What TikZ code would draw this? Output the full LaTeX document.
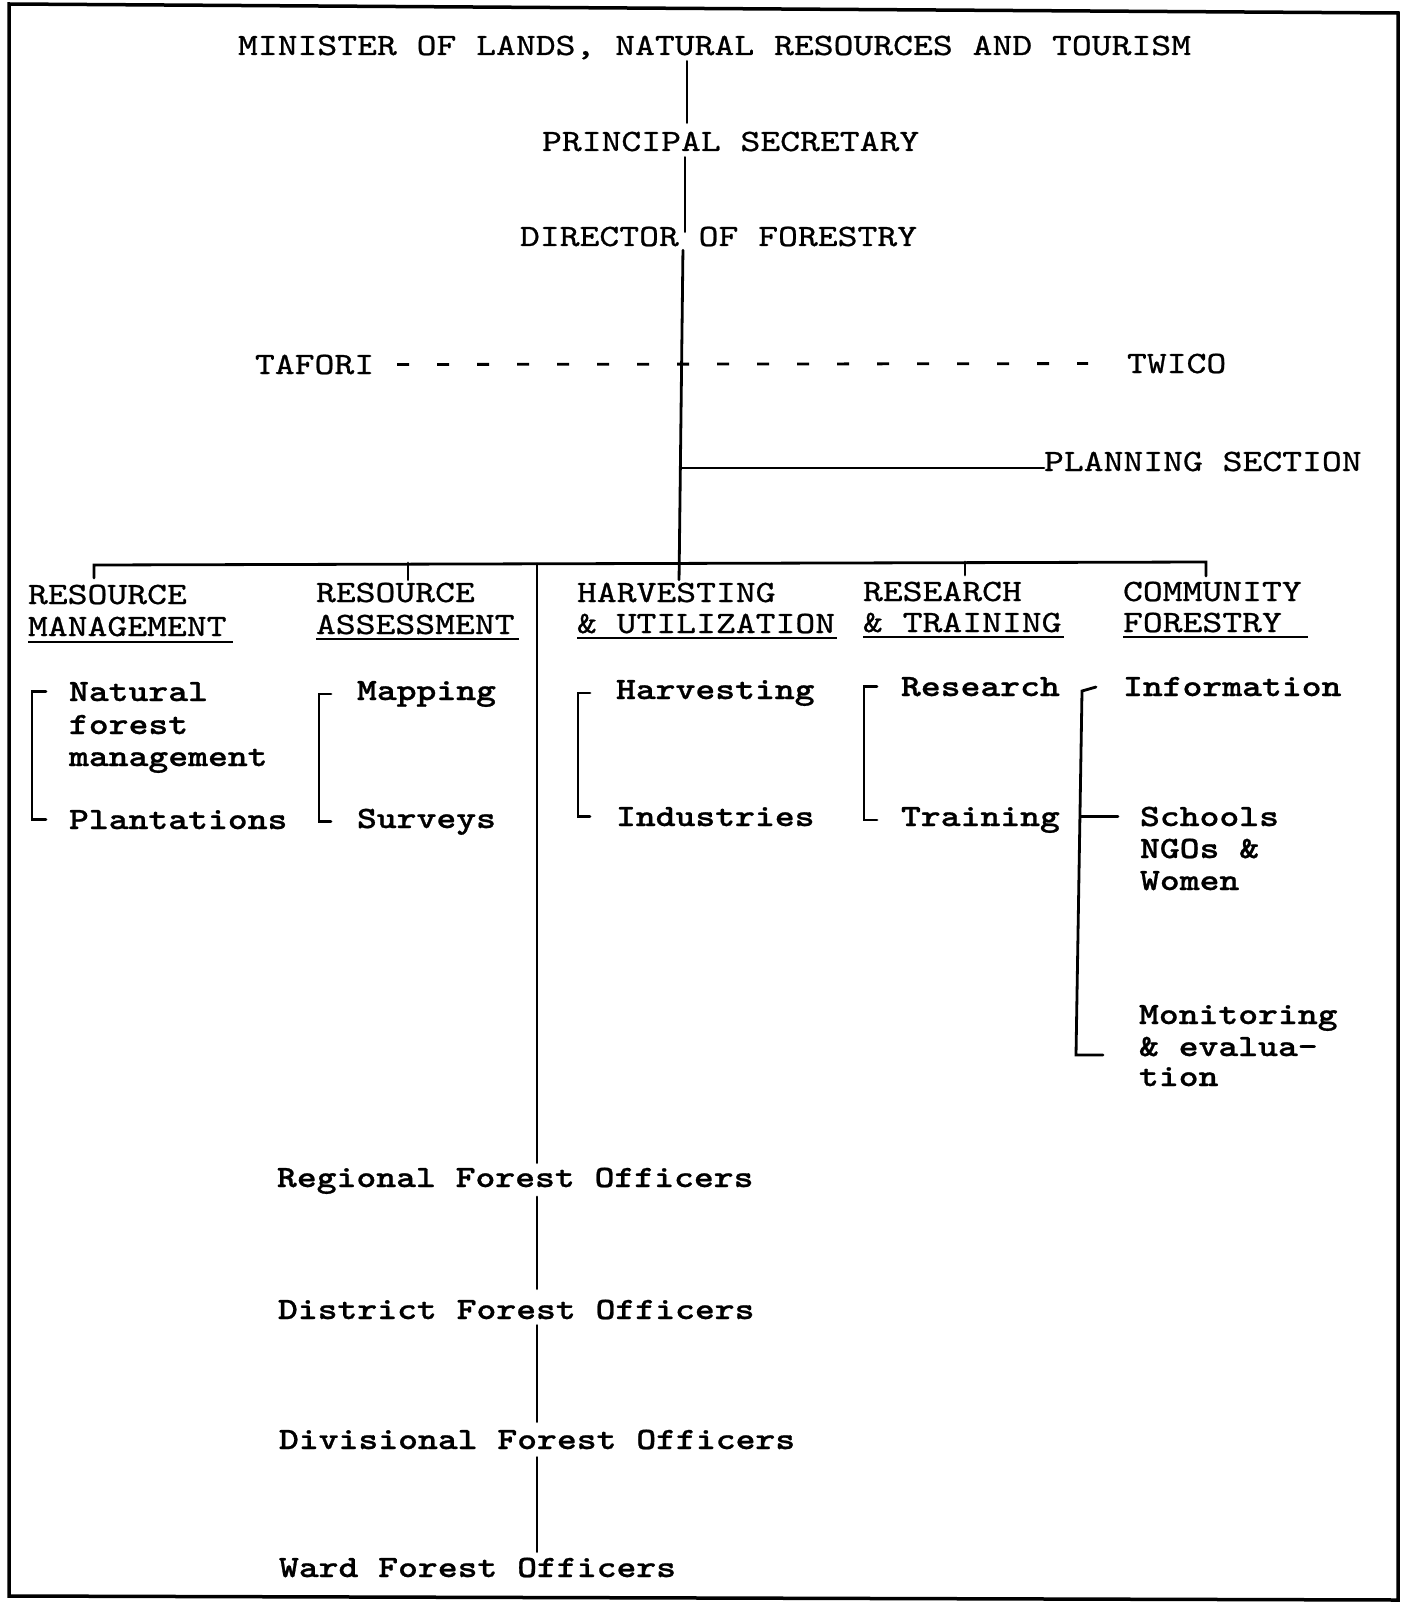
\documentclass[tikz,border=0pt]{standalone}
\usepackage{fontspec}
\newfontfamily\tw{lmmono10-regular.otf}[FakeStretch=1.22,FakeBold=0.8]
\newfontfamily\twb{lmmonolt10-bold.otf}[FakeStretch=1.22,FakeBold=0.8]
\usetikzlibrary{calc}
\tikzset{
  txt/.style={anchor=base west, inner sep=0pt, outer sep=0pt, font=\tw\fontsize{31}{31}\selectfont},
  itm/.style={txt, font=\twb\fontsize{31}{31}\selectfont},
  ln/.style={line width=2.8pt, line cap=round},
  dashln/.style={line width=2.8pt, dash pattern=on 12pt off 28pt},
  frame/.style={line width=3.5pt, line join=miter}
}
\begin{document}
\begin{tikzpicture}[x=1pt,y=-1pt]
\useasboundingbox (0,0) rectangle (1405,1602);
\draw[frame] (9,4) -- (1398,13) -- (1398,1600) -- (9,1596) -- cycle;

% top chain
\node[txt] (min) at (238,55) {MINISTER OF LANDS, NATURAL RESOURCES AND TOURISM};
\node[txt] (ps) at (542,151) {PRINCIPAL SECRETARY};
\node[txt] (dir) at (520,246) {DIRECTOR OF FORESTRY};
\node[txt] (taf) at (255,374) {TAFORI};
\node[txt] (twi) at (1127,373) {TWICO};
\node[txt] (plan) at (1044,471) {PLANNING SECTION};

% headings
\node[txt] (rm1) at (28,604) {RESOURCE};
\node[txt] (rm2) at (28,636) {MANAGEMENT};
\node[txt] (ra1) at (316,602) {RESOURCE};
\node[txt] (ra2) at (316,634) {ASSESSMENT};
\node[txt] (hu1) at (577,602) {HARVESTING};
\node[txt] (hu2) at (577,633) {\& UTILIZATION};
\node[txt] (rt1) at (863,601) {RESEARCH};
\node[txt] (rt2) at (863,632) {\& TRAINING};
\node[txt] (cf1) at (1123,601) {COMMUNITY};
\node[txt] (cf2) at (1123,632) {FORESTRY};

% underlines
\draw[line width=2.2pt] ($(rm2.base west)+(0,6)$) -- ($(rm2.base east)+(6,6)$);
\draw[line width=2.2pt] ($(ra2.base west)+(0,5)$) -- ($(ra2.base east)+(4,5)$);
\draw[line width=2.2pt] ($(hu2.base west)+(0,5)$) -- ($(hu2.base east)+(2,5)$);
\draw[line width=2.2pt] ($(rt2.base west)+(0,5)$) -- ($(rt2.base east)+(2,5)$);
\draw[line width=2.2pt] ($(cf2.base west)+(0,5)$) -- ($(cf2.base east)+(26,5)$);

% items
\node[itm] (nat1) at (69,701) {Natural};
\node[itm] (nat2) at (69,734) {forest};
\node[itm] (nat3) at (69,766) {management};
\node[itm] (plant) at (69,829) {Plantations};
\node[itm] (map) at (357,700) {Mapping};
\node[itm] (surv) at (357,828) {Surveys};
\node[itm] (harv) at (616,699) {Harvesting};
\node[itm] (ind) at (616,826) {Industries};
\node[itm] (res) at (901,696) {Research};
\node[itm] (train) at (901,826) {Training};
\node[itm] (info) at (1123,696) {Information};
\node[itm] (sch1) at (1140,826) {Schools};
\node[itm] (sch2) at (1140,858) {NGOs \&};
\node[itm] (sch3) at (1140,890) {Women};
\node[itm] (mon1) at (1139,1024) {Monitoring};
\node[itm] (mon2) at (1139,1056) {\& evalua-};
\node[itm] (mon3) at (1139,1086) {tion};

% officers
\node[itm] (reg) at (277,1187) {Regional Forest Officers};
\node[itm] (dis) at (278,1319) {District Forest Officers};
\node[itm] (div) at (279,1449) {Divisional Forest Officers};
\node[itm] (ward) at (279,1577) {Ward Forest Officers};

% trunk
\coordinate (t1) at (687,0);
\coordinate (t2) at (685,0);
\coordinate (t3a) at (683,0);
\coordinate (t3b) at (679,0);
\draw[ln, shorten <=2pt, shorten >=9pt] (t1 |- min.south) -- (t1 |- ps.north);
\draw[ln, shorten <=6pt, shorten >=-5pt] (t2 |- ps.south) -- (t2 |- dir.north);
\draw[ln, shorten <=4pt, shorten >=3pt] (t3a |- dir.south) -- (t3b |- hu1.north);

% dashed link
\draw[dashln, shorten <=23pt, shorten >=39pt] (taf.east) -- (twi.west);

% planning
\coordinate (tp) at (681,0);
\draw[ln] ($(tp |- plan.base west)+(0,-3)$) -- ($(plan.base west)+(0,-3)$);

% bus
\coordinate (bl) at (94,565);
\coordinate (br) at (1206,562);
\draw[ln] (94,578) -- (bl) -- (br) -- (1206,576);
\coordinate (raT) at (408,563);
\coordinate (rtT) at (965,562);
\coordinate (ob) at (537,564);
\draw[ln, shorten >=3pt] (raT) -- (raT |- ra1.north);
\draw[ln] (rtT) -- (965,575);

% officers line
\draw[ln, shorten >=5pt] (ob) -- (ob |- reg.north);
\draw[ln, shorten <=3pt, shorten >=11pt] (ob |- reg.south) -- (ob |- dis.north);
\draw[ln, shorten <=6pt, shorten >=8pt] (ob |- dis.south) -- (ob |- div.north);
\draw[ln, shorten <=8pt, shorten >=6pt] (ob |- div.south) -- (ob |- ward.north);

% brackets
\coordinate (rmb) at (32,0);
\draw[ln] ($(rmb |- nat1.west)+(14,0)$) -- (rmb |- nat1.west) -- (rmb |- plant.west) -- ++(14,0);
\coordinate (rab) at (319,0);
\draw[ln] ($(rab |- map.west)+(12,0)$) -- (rab |- map.west) -- (rab |- surv.west) -- ++(12,0);
\coordinate (hub) at (578,0);
\draw[ln] ($(hub |- harv.west)+(12,0)$) -- (hub |- harv.west) -- (hub |- ind.west) -- ++(12,0);
\coordinate (rtb) at (864,0);
\draw[ln] ($(rtb |- res.west)+(13,0)$) -- (rtb |- res.west) -- (rtb |- train.west) -- ++(13,0);

% community forestry bracket
\coordinate (cfa) at (1082,691);
\coordinate (cfz) at (1076,1055);
\draw[ln] (1096,687) -- (cfa) -- (cfz) -- (1103,1055);
\draw[ln, shorten >=22pt] (1081,0 |- sch1.west) -- (sch1.west);
\end{tikzpicture}
\end{document}
